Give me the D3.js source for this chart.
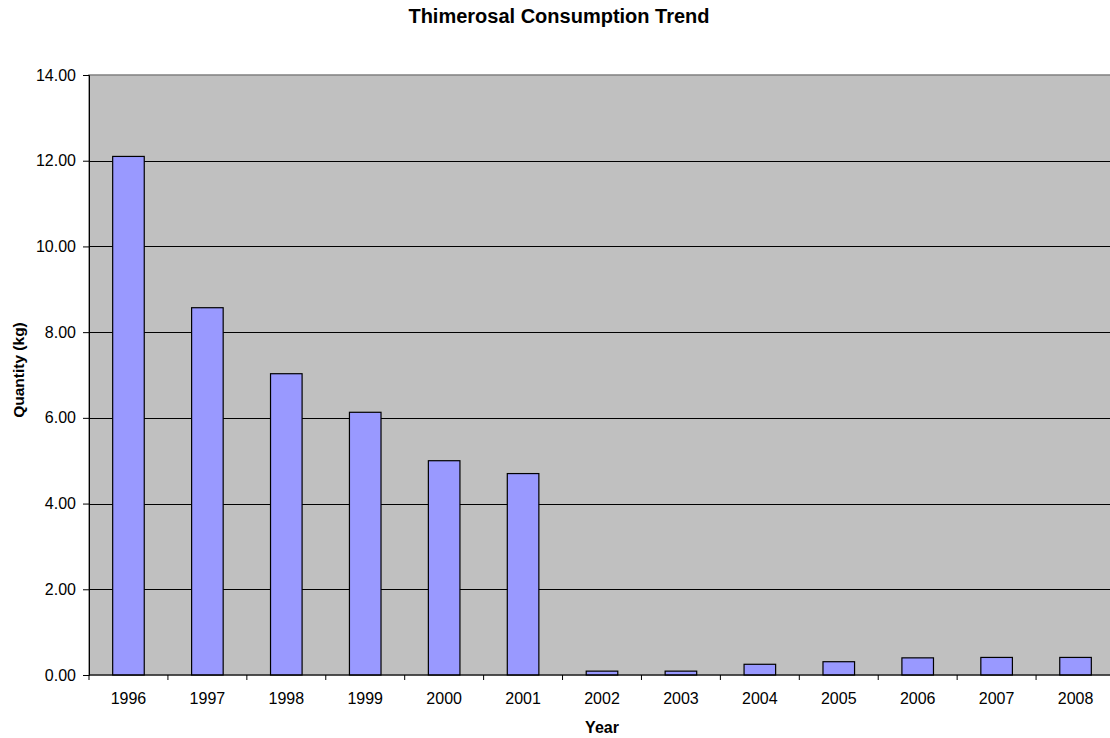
<!DOCTYPE html>
<meta charset="utf-8">
<style>
  body { margin: 0; background: #fff; }
  text { font-family: "Liberation Sans", Arial, sans-serif; fill: #000; }
</style>
<body>
<script src="https://d3js.org/d3.v7.min.js"></script>
<script>
var years = ["1996","1997","1998","1999","2000","2001","2002","2003","2004","2005","2006","2007","2008"];
var quantity = [12.1, 8.57, 7.03, 6.13, 5.0, 4.7, 0.09, 0.09, 0.25, 0.31, 0.40, 0.41, 0.41];
var yTicks = [0, 2, 4, 6, 8, 10, 12, 14];

var width = 1110, height = 738;
var plotLeft = 89, plotTop = 75, plotW = 1026, plotH = 600;

var svg = d3.select("body").append("svg")
    .attr("width", width)
    .attr("height", height);

var x = d3.scaleBand()
    .domain(years)
    .range([plotLeft, plotLeft + plotW])
    .paddingInner(0.6)
    .paddingOuter(0.3);

var y = d3.scaleLinear()
    .domain([0, 14])
    .range([plotTop + plotH, plotTop]);

// plot area
svg.append("rect")
    .attr("x", plotLeft)
    .attr("y", plotTop)
    .attr("width", plotW)
    .attr("height", plotH)
    .attr("fill", "#c0c0c0")
    .attr("stroke", "#808080")
    .attr("stroke-width", 1.5);

// gridlines
svg.append("g")
  .selectAll("line")
  .data(yTicks.slice(1, -1))
  .enter().append("line")
    .attr("x1", plotLeft)
    .attr("x2", plotLeft + plotW)
    .attr("y1", d => Math.round(y(d)) + 0.5)
    .attr("y2", d => Math.round(y(d)) + 0.5)
    .attr("stroke", "#000")
    .attr("stroke-width", 1);

// bars
svg.append("g")
  .selectAll("rect")
  .data(years)
  .enter().append("rect")
    .attr("x", d => x(d))
    .attr("y", (d, i) => y(quantity[i]))
    .attr("width", x.bandwidth())
    .attr("height", (d, i) => y(0) - y(quantity[i]))
    .attr("fill", "#9999ff")
    .attr("stroke", "#000")
    .attr("stroke-width", 1.2);

// y axis
var yAxis = svg.append("g")
    .attr("transform", `translate(${plotLeft},0)`)
    .call(d3.axisLeft(y).tickValues(yTicks).tickFormat(d3.format(".2f")).tickSize(6).tickPadding(7));
yAxis.select(".domain").attr("stroke", "#000");
yAxis.selectAll("line").attr("stroke", "#000");
yAxis.selectAll("text").style("font-size", "16px").attr("fill", "#000");

// x axis: ticks at category boundaries
var xAxis = svg.append("g");
xAxis.append("line")
    .attr("x1", plotLeft).attr("x2", plotLeft + plotW)
    .attr("y1", y(0)).attr("y2", y(0))
    .attr("stroke", "#000").attr("stroke-width", 1.2);
xAxis.selectAll("line.tick")
  .data(d3.range(years.length + 1))
  .enter().append("line")
    .attr("class", "tick")
    .attr("x1", i => plotLeft + i * x.step())
    .attr("x2", i => plotLeft + i * x.step())
    .attr("y1", y(0))
    .attr("y2", y(0) + 5)
    .attr("stroke", "#000");
xAxis.selectAll("text")
  .data(years)
  .enter().append("text")
    .attr("x", d => x(d) + x.bandwidth() / 2)
    .attr("y", 704)
    .attr("text-anchor", "middle")
    .style("font-size", "16px")
    .text(d => d);

// titles
svg.append("text")
    .attr("x", 559)
    .attr("y", 23)
    .attr("text-anchor", "middle")
    .style("font-size", "20px")
    .style("font-weight", "bold")
    .text("Thimerosal Consumption Trend");

svg.append("text")
    .attr("x", plotLeft + plotW / 2)
    .attr("y", 733)
    .attr("text-anchor", "middle")
    .style("font-size", "16px")
    .style("font-weight", "bold")
    .text("Year");

svg.append("text")
    .attr("transform", "translate(24,370) rotate(-90)")
    .attr("text-anchor", "middle")
    .style("font-size", "15.5px")
    .style("font-weight", "bold")
    .text("Quantity (kg)");
</script>
</body>
</html>
